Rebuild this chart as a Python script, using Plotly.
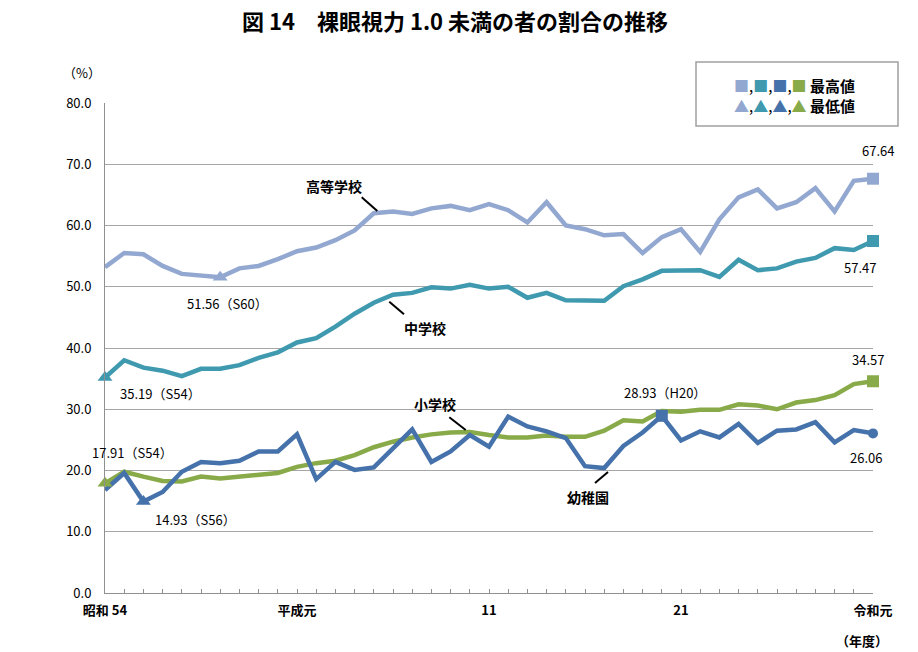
import plotly.graph_objects as go
import numpy as np

# ---------------- data ----------------
years = list(range(1979, 2020))
tick_labels = {1979: "昭和 54", 1989: "平成元", 1999: "11", 2009: "21", 2019: "令和元"}

high_school = [53.2, 55.5, 55.3, 53.4, 52.1, 51.9, 51.56, 53.0, 53.4, 54.5,
               55.8, 56.4, 57.6, 59.2, 62.0, 62.3, 61.9, 62.8, 63.2, 62.5,
               63.5, 62.5, 60.5, 63.8, 60.0, 59.4, 58.4, 58.6, 55.5, 58.1,
               59.4, 55.7, 61.0, 64.6, 65.9, 62.8, 63.8, 66.1, 62.3, 67.3, 67.64]
middle_school = [35.19, 38.0, 36.8, 36.3, 35.4, 36.6, 36.6, 37.2, 38.4, 39.3,
                 40.9, 41.6, 43.5, 45.6, 47.4, 48.7, 49.0, 49.9, 49.7, 50.3,
                 49.7, 50.0, 48.2, 49.0, 47.8, 47.7, 47.7, 50.1, 51.2, 52.6,
                 52.6, 52.7, 51.6, 54.4, 52.7, 53.0, 54.1, 54.7, 56.3, 56.0, 57.47]
elementary = [17.91, 19.8, 19.0, 18.3, 18.2, 19.0, 18.7, 19.0, 19.4, 19.6,
              20.6, 21.2, 21.6, 22.5, 23.8, 24.7, 25.4, 25.9, 26.2, 26.3,
              25.8, 25.4, 25.4, 25.7, 25.5, 25.5, 26.5, 28.2, 28.0, 29.7,
              29.6, 29.9, 29.9, 30.8, 30.6, 30.0, 31.1, 31.5, 32.3, 34.1, 34.57]
kindergarten = [16.8, 19.6, 14.93, 16.5, 19.8, 21.4, 21.2, 21.6, 23.1, 23.1,
                25.9, 18.6, 21.4, 20.1, 20.5, 23.6, 26.7, 21.4, 23.1, 25.8,
                23.9, 28.8, 27.2, 26.4, 25.3, 20.7, 20.4, 24.0, 26.2, 28.93,
                24.9, 26.4, 25.4, 27.6, 24.5, 26.5, 26.7, 27.9, 24.6, 26.6, 26.06]

era_codes = {1979: "S54", 1981: "S56", 1985: "S60", 2008: "H20"}

# ---------------- styling ----------------
FONT = "Noto Sans CJK JP"
C_HIGH = "#93A8D1"
C_MID = "#3F99AF"
C_KIN = "#4672AB"
C_ELEM = "#88AA48"
GRID = "#A6A6A6"

W, H = 918, 652
L, R, T, B = 105, 45, 103, 59
PW, PH = W - L - R, H - T - B


def px(x):
    return (x - L) / PW


def py(y):
    return (H - B - y) / PH


series = [
    ("高等学校", high_school, C_HIGH),
    ("中学校", middle_school, C_MID),
    ("小学校", elementary, C_ELEM),
    ("幼稚園", kindergarten, C_KIN),
]

fig = go.Figure()

for name, vals, col in series:
    fig.add_trace(go.Scatter(x=years, y=vals, mode="lines", name=name,
                             line=dict(color=col, width=4.5), cliponaxis=False,
                             showlegend=False))

# min / max markers
for name, vals, col in series:
    arr = np.array(vals)
    imax, imin = int(arr.argmax()), int(arr.argmin())
    fig.add_trace(go.Scatter(x=[years[imax]], y=[vals[imax]], mode="markers",
                             marker=dict(symbol="square", size=12, color=col),
                             cliponaxis=False, showlegend=False))
    fig.add_trace(go.Scatter(x=[years[imin]], y=[vals[imin]], mode="markers",
                             marker=dict(symbol="triangle-up", size=13, color=col),
                             cliponaxis=False, showlegend=False))

# last kindergarten point
fig.add_trace(go.Scatter(x=[years[-1]], y=[kindergarten[-1]], mode="markers",
                         marker=dict(symbol="circle", size=10, color=C_KIN),
                         cliponaxis=False, showlegend=False))

annotations = []


def val_label(year, vals, xs, ys, with_era=True):
    i = years.index(year)
    v = vals[i]
    txt = f"{v:.2f}"
    if with_era:
        txt += f"（{era_codes[year]}）"
    annotations.append(dict(x=year, y=v, xref="x", yref="y", text=txt,
                            xanchor="center", yanchor="middle",
                            showarrow=False, xshift=xs, yshift=ys,
                            font=dict(family=FONT, size=13, color="#000000")))


val_label(2019, high_school, 5, 28, False)
val_label(2019, middle_school, -13, -26, False)
val_label(1985, high_school, 7, -26)
val_label(1979, middle_school, 55, -16)
val_label(2019, elementary, -5, 22, False)
val_label(2008, kindergarten, 3, 23)
val_label(2019, kindergarten, -7, -24, False)
val_label(1979, elementary, 27, 31)
val_label(1981, kindergarten, 52, -18)


def paper_text(x, y, text, size=14, xanchor="center"):
    annotations.append(dict(x=px(x), y=py(y), xref="paper", yref="paper", text=text,
                            xanchor=xanchor, yanchor="middle", showarrow=False,
                            font=dict(family=FONT, size=size, color="#000000")))


# series name labels with leader lines
name_pos = {"高等学校": (334, 186), "中学校": (425, 328), "小学校": (435, 404), "幼稚園": (588, 497)}
leaders = {"高等学校": (361.7, 197.3, 377.3, 211), "中学校": (389.3, 301.7, 404, 314.3),
           "小学校": (449.3, 417.3, 465.7, 430), "幼稚園": (595, 483, 608, 472)}
shapes = []
for name, (x, y) in name_pos.items():
    paper_text(x, y, f"<b>{name}</b>", 14)
    x0, y0, x1, y1 = leaders[name]
    shapes.append(dict(type="line", xref="paper", yref="paper", x0=px(x0), y0=py(y0),
                       x1=px(x1), y1=py(y1), line=dict(color="#000000", width=2)))

# legend box
shapes.append(dict(type="rect", xref="paper", yref="paper", x0=px(696), y0=py(62), x1=px(898), y1=py(126),
                   fillcolor="#FFFFFF", line=dict(color="#A0A0A0", width=1.5), layer="above"))
cols = [C_HIGH, C_MID, C_KIN, C_ELEM]
sq = ",".join(f"<span style='color:{c}'>■</span>" for c in cols)
tr = ",".join(f"<span style='color:{c}'>▲</span>" for c in cols)
paper_text(732, 85, f"{sq} <b>最高値</b>", 15, "left")
paper_text(732, 105, f"{tr} <b>最低値</b>", 15, "left")

# unit labels
paper_text(82, 73, "（%）", 13)
paper_text(862, 640, "<b>（年度）</b>", 13)

ticktext = [f"<b>{tick_labels[y]}</b>" if y in tick_labels else "" for y in years]

fig.update_layout(
    width=W, height=H, autosize=False,
    margin=dict(l=L, r=R, t=T, b=B),
    paper_bgcolor="#FFFFFF", plot_bgcolor="#FFFFFF",
    title=dict(text="<b>図 14　裸眼視力 1.0 未満の者の割合の推移</b>", x=455 / W, xanchor="center",
               y=1 - 22 / H, yanchor="middle", font=dict(family=FONT, size=22, color="#000000")),
    xaxis=dict(range=[1979, 2019], tickmode="array", tickvals=years, ticktext=ticktext,
               ticks="inside", ticklen=4, tickcolor="#909090", showline=True, linecolor="#909090",
               linewidth=1, showgrid=False, zeroline=False, ticklabelstandoff=5,
               tickfont=dict(family=FONT, size=13, color="#000000")),
    yaxis=dict(range=[0, 80], dtick=10, tickformat=".1f", showgrid=True, gridcolor=GRID, gridwidth=1,
               showline=True, linecolor="#909090", linewidth=1, zeroline=False, ticks="",
               ticklabelstandoff=10,
               tickfont=dict(family=FONT, size=13, color="#000000")),
    annotations=annotations, shapes=shapes,
    showlegend=False,
)

fig.write_html("out.html")
